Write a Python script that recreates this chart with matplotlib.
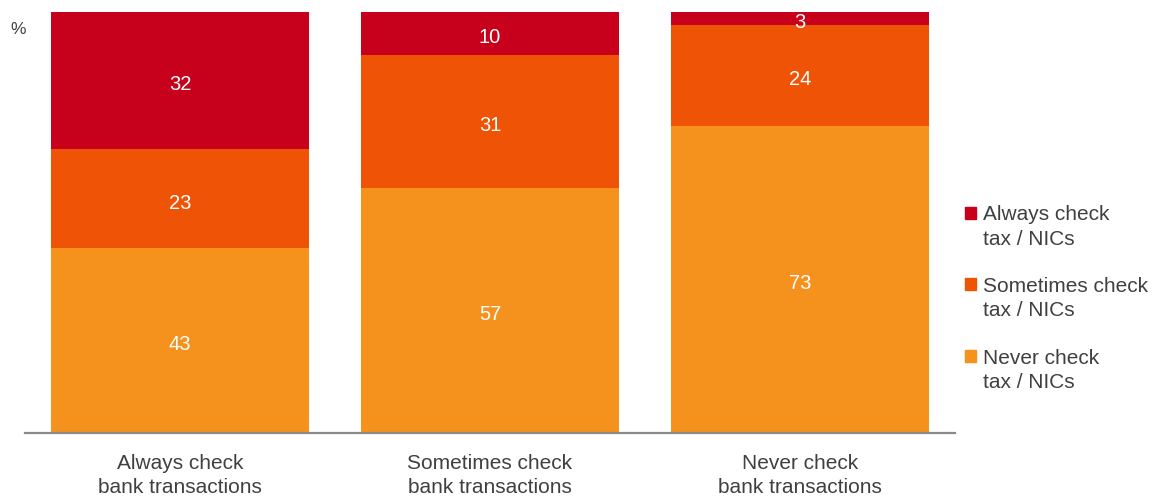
import numpy as np
import matplotlib.pyplot as plt
from matplotlib.patches import Rectangle

plt.rcParams['font.family'] = ['Liberation Sans', 'DejaVu Sans']

categories = ["Always check\nbank transactions",
              "Sometimes check\nbank transactions",
              "Never check\nbank transactions"]
never_tax = [43, 57, 73]
sometimes_tax = [23, 31, 24]
always_tax = [32, 10, 3]

series = [
    ("Never check\ntax / NICs", never_tax, "#F5921E"),
    ("Sometimes check\ntax / NICs", sometimes_tax, "#EF5305"),
    ("Always check\ntax / NICs", always_tax, "#C7001C"),
]
text_col = "#404040"


def main():
    fig = plt.figure(figsize=(11.69, 4.98), dpi=100)
    ax = fig.add_axes([0.0214, 0.1305, 0.7956, 0.8454])

    x = np.arange(len(categories))
    totals = np.sum([s[1] for s in series], axis=0)
    bottom = np.zeros(len(categories))
    for name, vals, col in series:
        share = np.array(vals) / totals * 100
        ax.bar(x, share, 0.832, bottom=bottom, color=col, linewidth=0)
        for xi, b, h, v in zip(x, bottom, share, vals):
            ax.annotate(str(v), (xi, b + h / 2), xytext=(0, -3),
                        textcoords="offset points", ha="center",
                        va="center", color="white", fontsize=14.5)
        bottom += share

    ax.set_xlim(-0.5, 2.5)
    ax.set_ylim(0, 100)
    ax.set_yticks([])
    ax.set_xticks(x)
    ax.set_xticklabels(categories, fontsize=15, color=text_col,
                       linespacing=1.36)
    ax.tick_params(axis="x", length=0, pad=15)
    for side in ["top", "right", "left"]:
        ax.spines[side].set_visible(False)
    ax.spines["bottom"].set_color("#8a8a8a")
    ax.spines["bottom"].set_linewidth(1.6)

    fig.text(0.009, 0.94, "%", fontsize=12.5, color=text_col, va="center")

    # legend drawn by hand so the square sits beside the first line
    legend_y = [213, 284, 356]
    h = fig.get_figheight() * fig.dpi
    for (name, vals, col), ly in zip(reversed(series), legend_y):
        yc = 1 - ly / h
        fig.patches.append(Rectangle((0.8255, yc - 0.012), 0.0095, 0.024,
                                     transform=fig.transFigure,
                                     color=col))
        for i, line in enumerate(name.split("\n")):
            fig.text(0.8405, 1 - (ly + 7.5 + 25 * i) / h, line,
                     fontsize=15, color=text_col, va="baseline", ha="left")

    fig.savefig("out.png", dpi=100)


if __name__ == "__main__":
    main()
